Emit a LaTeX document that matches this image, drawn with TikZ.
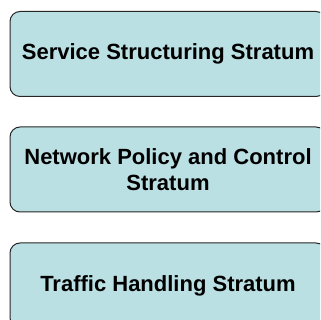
\documentclass[tikz,border=0pt]{standalone}
\usepackage{fontspec}
\setmainfont{Liberation Sans}
\usepackage{tikz}
\usetikzlibrary{positioning}

\definecolor{stratumfill}{RGB}{187,224,227}

\begin{document}
\begin{tikzpicture}[
    x=1pt, y=1pt,
    stratum/.style={rectangle, rounded corners=10pt, draw=black!85, line width=1pt,
                    fill=stratumfill, minimum width=316pt, minimum height=85pt,
                    align=center, inner sep=0pt,
                    font=\fontsize{22}{26}\selectfont\bfseries}
]
    \useasboundingbox (0, 0) rectangle (320, 320);
    \clip (0, 0) rectangle (320, 320);

    % === Strata ===
    \node[stratum] (service) at (168, 266) {Service Structuring Stratum};
    \node[stratum] (policy) at (168, 150.5) {Network Policy and Control\\Stratum};
    \node[stratum] (traffic) at (168, 34.5) {Traffic Handling Stratum};

\end{tikzpicture}
\end{document}
